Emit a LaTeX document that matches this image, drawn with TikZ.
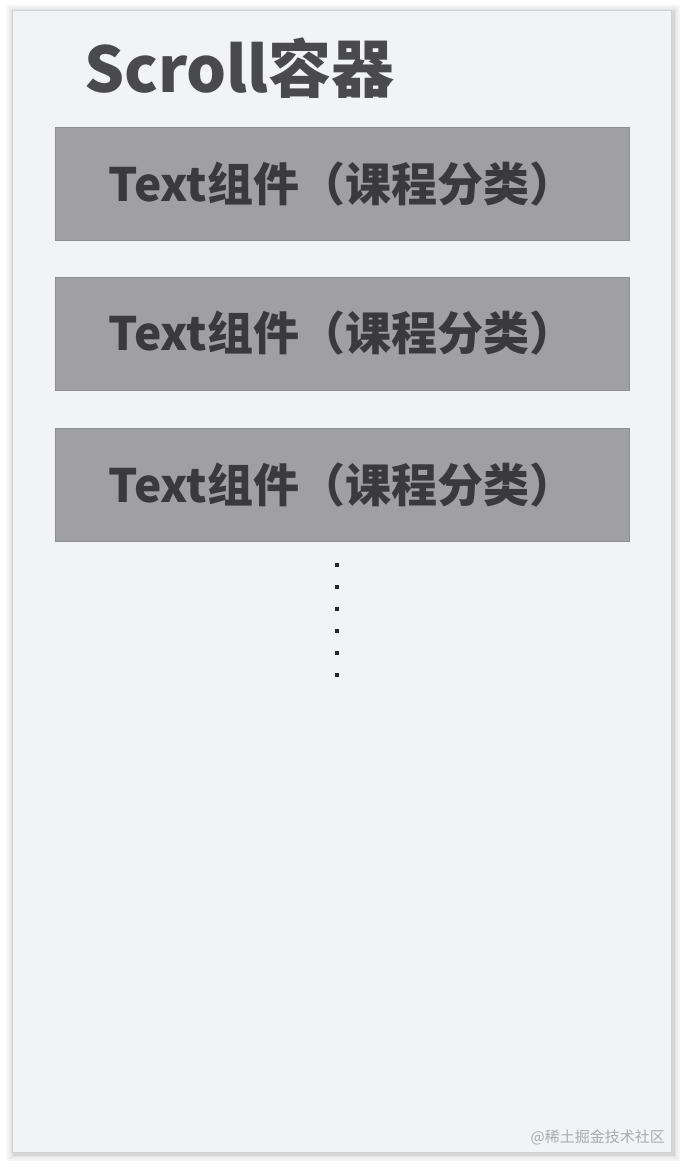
\documentclass[tikz,border=0pt]{standalone}
\usepackage{fontspec}
\setmainfont{Noto Sans CJK SC}
\definecolor{panelfill}{HTML}{F2F3F5}
\definecolor{cardfill}{HTML}{A0A0A3}
\definecolor{cardline}{HTML}{8E8E91}
\definecolor{cardtext}{HTML}{3A3A3C}
\definecolor{titletext}{HTML}{4A4A4C}
\definecolor{marktext}{HTML}{ABABAD}
\begin{document}
\begin{tikzpicture}[x=1bp,y=-1bp,
    card/.style={draw=cardline, fill=cardfill, minimum width=574bp, minimum height=113bp,
        inner sep=0pt, text=cardtext, font=\fontsize{46bp}{50bp}\selectfont\bfseries}]
    \useasboundingbox (0,0) rectangle (686,1168);
    \fill[white] (0,0) rectangle (686,1168);

    % soft shadow round the scroll panel
    \foreach \s/\c in {7/4, 5/7, 3/11, 1.5/16}
        \fill[black!\c] (12-\s+2,10-\s+2) rectangle (671+\s+2,1152+\s+2);
    \fill[panelfill] (12,10) rectangle (671,1152);
    \draw[black!18] (12,10) rectangle (671,1152);

    \node[anchor=west, inner sep=0pt, text=titletext, font=\fontsize{63bp}{66bp}\selectfont\bfseries]
        (title) at (84,68) {Scroll容器};

    \node[card] (item1) at (342,184) {Text组件（课程分类）};
    \node[card] (item2) at (342,333.5) {Text组件（课程分类）};
    \node[card] (item3) at (342,485) {Text组件（课程分类）};

    % more items below
    \foreach \y in {565,587,609,631,653,675}
        \fill[black!85] (335,\y-2) rectangle (339,\y+2);

    \node[anchor=east, inner sep=0pt, text=marktext, font=\fontsize{15bp}{17bp}\selectfont]
        (mark) at (665,1137) {@稀土掘金技术社区};
\end{tikzpicture}
\end{document}
